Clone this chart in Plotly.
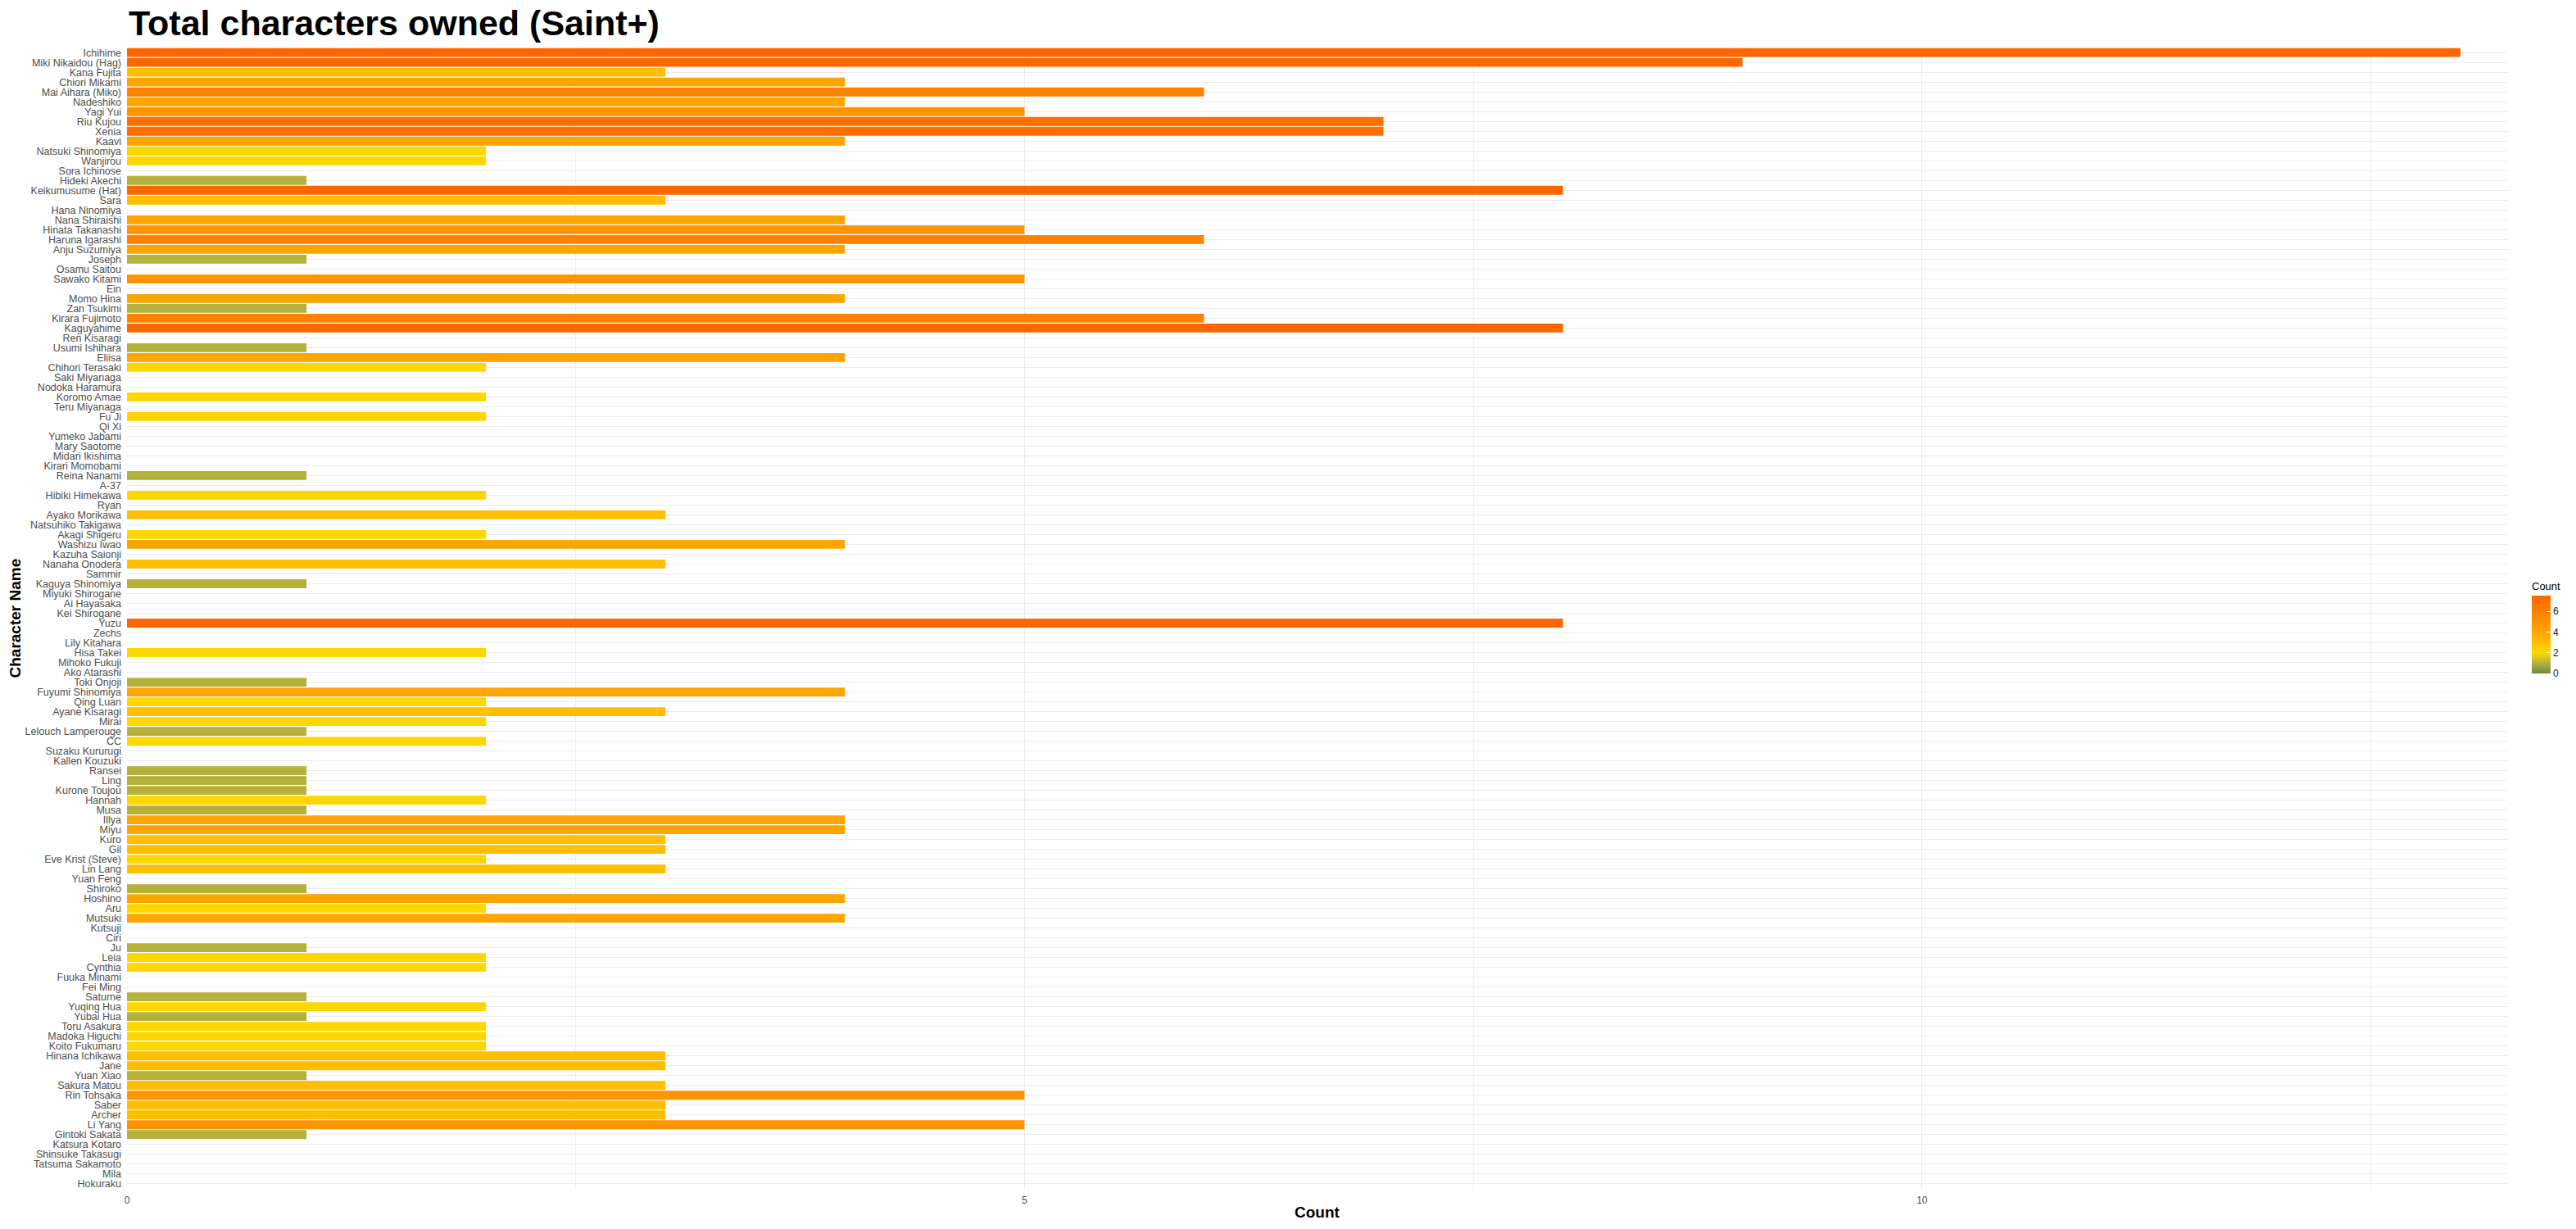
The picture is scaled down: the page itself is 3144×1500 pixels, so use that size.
import plotly.graph_objects as go

names = [
    "Ichihime", "Miki Nikaidou (Hag)", "Kana Fujita", "Chiori Mikami", "Mai Aihara (Miko)",
    "Nadeshiko", "Yagi Yui", "Riu Kujou", "Xenia", "Kaavi", "Natsuki Shinomiya", "Wanjirou",
    "Sora Ichinose", "Hideki Akechi", "Keikumusume (Hat)", "Sara", "Hana Ninomiya",
    "Nana Shiraishi", "Hinata Takanashi", "Haruna Igarashi", "Anju Suzumiya", "Joseph",
    "Osamu Saitou", "Sawako Kitami", "Ein", "Momo Hina", "Zan Tsukimi", "Kirara Fujimoto",
    "Kaguyahime", "Ren Kisaragi", "Usumi Ishihara", "Eliisa", "Chihori Terasaki",
    "Saki Miyanaga", "Nodoka Haramura", "Koromo Amae", "Teru Miyanaga", "Fu Ji", "Qi Xi",
    "Yumeko Jabami", "Mary Saotome", "Midari Ikishima", "Kirari Momobami", "Reina Nanami",
    "A-37", "Hibiki Himekawa", "Ryan", "Ayako Morikawa", "Natsuhiko Takigawa",
    "Akagi Shigeru", "Washizu Iwao", "Kazuha Saionji", "Nanaha Onodera", "Sammir",
    "Kaguya Shinomiya", "Miyuki Shirogane", "Ai Hayasaka", "Kei Shirogane", "Yuzu", "Zechs",
    "Lily Kitahara", "Hisa Takei", "Mihoko Fukuji", "Ako Atarashi", "Toki Onjoji",
    "Fuyumi Shinomiya", "Qing Luan", "Ayane Kisaragi", "Mirai", "Lelouch Lamperouge", "CC",
    "Suzaku Kururugi", "Kallen Kouzuki", "Ransei", "Ling", "Kurone Toujou", "Hannah", "Musa",
    "Illya", "Miyu", "Kuro", "Gil", "Eve Krist (Steve)", "Lin Lang", "Yuan Feng", "Shiroko",
    "Hoshino", "Aru", "Mutsuki", "Kutsuji", "Ciri", "Ju", "Leia", "Cynthia", "Fuuka Minami",
    "Fei Ming", "Saturne", "Yuqing Hua", "Yubai Hua", "Toru Asakura", "Madoka Higuchi",
    "Koito Fukumaru", "Hinana Ichikawa", "Jane", "Yuan Xiao", "Sakura Matou", "Rin Tohsaka",
    "Saber", "Archer", "Li Yang", "Gintoki Sakata", "Katsura Kotaro", "Shinsuke Takasugi",
    "Tatsuma Sakamoto", "Mila", "Hokuraku",
]

counts = [
    13, 9, 3, 4, 6,
    4, 5, 7, 7, 4, 2, 2,
    0, 1, 8, 3, 0,
    4, 5, 6, 4, 1,
    0, 5, 0, 4, 1, 6,
    8, 0, 1, 4, 2,
    0, 0, 2, 0, 2, 0,
    0, 0, 0, 0, 1,
    0, 2, 0, 3, 0,
    2, 4, 0, 3, 0,
    1, 0, 0, 0, 8, 0,
    0, 2, 0, 0, 1,
    4, 2, 3, 2, 1, 2,
    0, 0, 1, 1, 1, 2, 1,
    4, 4, 3, 3, 2, 3, 0, 1,
    4, 2, 4, 0, 0, 1, 2, 2, 0,
    0, 1, 2, 1, 2, 2,
    2, 3, 3, 1, 3, 5,
    3, 3, 5, 1, 0, 0,
    0, 0, 0,
]

x_ticks = [0, 5, 10]
colorbar_ticks = [0, 2, 4, 6]

CMAX = 7.5
colorscale = [
    [0.0, "#6B8B47"],
    [1 / CMAX, "#B5B13C"],
    [2 / CMAX, "#FFD700"],
    [4 / CMAX, "#FFA500"],
    [1.0, "#FF6600"],
]

W, H = 3144, 1500
L, R, T, B = 155, 3060, 57, 1452

fig = go.Figure(
    go.Bar(
        x=counts,
        y=names,
        orientation="h",
        width=0.9,
        marker=dict(
            color=counts,
            colorscale=colorscale,
            cmin=0,
            cmax=CMAX,
            line=dict(width=0),
            colorbar=dict(
                title=dict(text="Count", side="top", font=dict(size=13, color="#000000", family="Liberation Sans")),
                thickness=23,
                thicknessmode="pixels",
                len=115,
                lenmode="pixels",
                x=(3090 - L) / (R - L),
                xanchor="left",
                xpad=0,
                y=(B - 764.5) / (B - T),
                yanchor="middle",
                ypad=0,
                outlinewidth=0,
                tickmode="array",
                tickvals=colorbar_ticks,
                ticktext=[str(v) for v in colorbar_ticks],
                ticks="inside",
                ticklen=5,
                tickcolor="white",
                tickfont=dict(size=12, color="#1A1A1A", family="Liberation Sans"),
            ),
        ),
        hovertemplate="%{y}: %{x}<extra></extra>",
    )
)

fig.update_layout(
    width=W,
    height=H,
    margin=dict(l=L, r=W - R, t=T, b=H - B, pad=0),
    paper_bgcolor="white",
    plot_bgcolor="white",
    showlegend=False,
    font=dict(family="Liberation Sans", color="#4D4D4D"),
    bargap=0.1,
)

fig.update_xaxes(
    range=[0, 13.26],
    tickmode="array",
    tickvals=x_ticks,
    ticktext=[str(v) for v in x_ticks],
    showgrid=True,
    gridcolor="#EBEBEB",
    gridwidth=1.3,
    minor=dict(tickmode="array", tickvals=[2.5, 7.5, 12.5], showgrid=True, gridcolor="#F2F2F2", gridwidth=0.7),
    zeroline=False,
    showline=False,
    ticks="",
    tickfont=dict(size=12, color="#4D4D4D"),
    ticklabelstandoff=4,
)

fig.update_yaxes(
    type="category",
    categoryorder="array",
    categoryarray=names,
    tickmode="array",
    tickvals=names,
    ticktext=names,
    range=[len(names) - 0.4, -0.6],
    showgrid=True,
    gridcolor="#EBEBEB",
    gridwidth=1.3,
    zeroline=False,
    showline=False,
    ticks="",
    tickfont=dict(size=12.5, color="#4D4D4D"),
    ticklabelstandoff=6,
)

fig.add_annotation(
    text="<b>Total characters owned (Saint+)</b>",
    xref="paper", yref="paper",
    x=0, y=(B - 28) / (B - T),
    xanchor="left", yanchor="middle",
    showarrow=False,
    font=dict(family="Liberation Sans", size=43, color="#000000"),
)
fig.add_annotation(
    text="<b>Count</b>",
    xref="paper", yref="paper",
    x=0.5, y=(B - 1479) / (B - T),
    xanchor="center", yanchor="middle",
    showarrow=False,
    font=dict(family="Liberation Sans", size=19, color="#000000"),
)
fig.add_annotation(
    text="<b>Character Name</b>",
    xref="paper", yref="paper",
    x=(18 - L) / (R - L), y=0.5,
    xanchor="center", yanchor="middle",
    textangle=-90,
    showarrow=False,
    font=dict(family="Liberation Sans", size=19, color="#000000"),
)

fig.write_html("out.html")
